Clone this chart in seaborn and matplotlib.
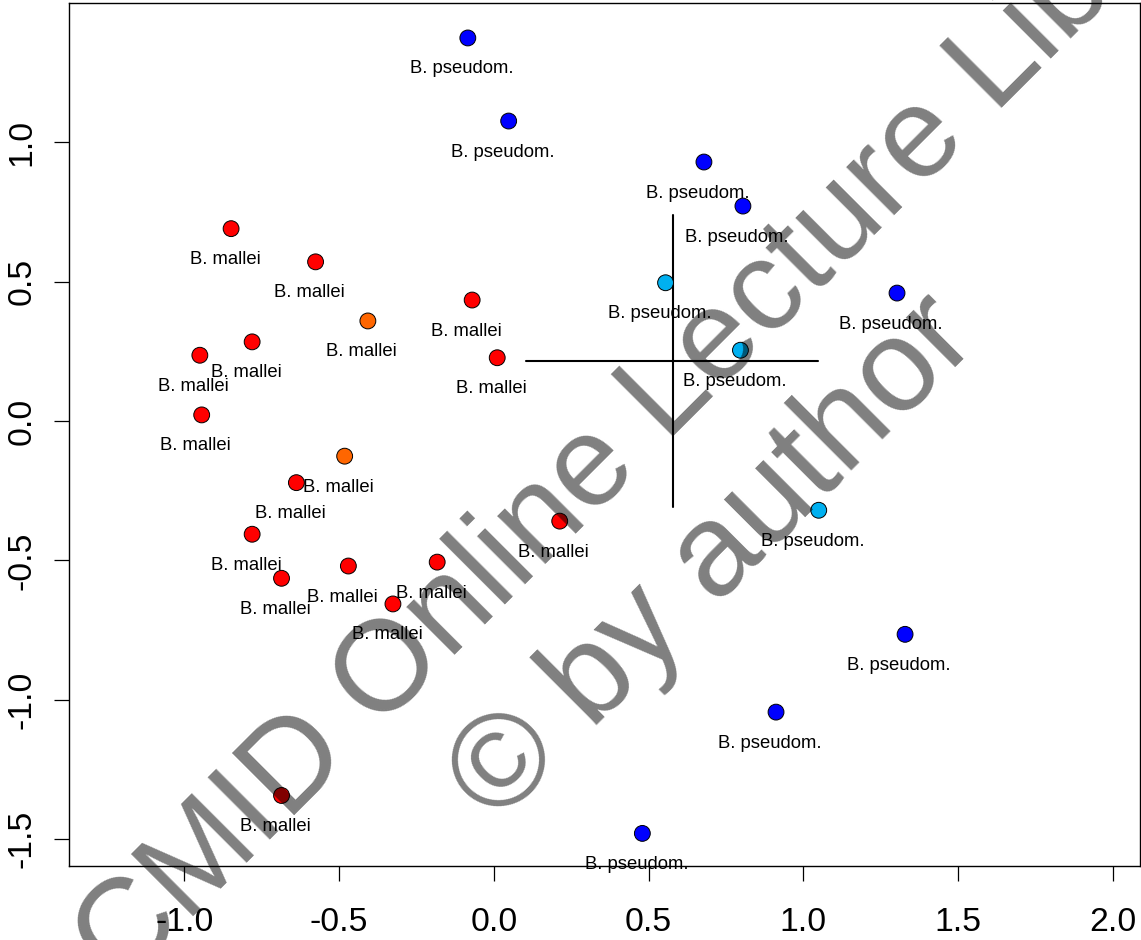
import numpy as np
import matplotlib
matplotlib.use("Agg")
import matplotlib.pyplot as plt
import pandas as pd
import seaborn as sns

# point coordinates (PCA-like map)
x_vals = [-0.084, 0.048, 0.679, 0.805, 1.303, 1.329, 0.912, 0.480,
          0.555, 0.797, 1.050,
          -0.849, -0.576, -0.407, -0.070, 0.011, -0.781, -0.950, -0.944,
          -0.482, -0.638, -0.781, -0.686, -0.470, -0.183, -0.326, 0.213, -0.686]
y_vals = [1.374, 1.076, 0.929, 0.771, 0.459, -0.765, -1.044, -1.479,
          0.496, 0.254, -0.320,
          0.690, 0.571, 0.359, 0.434, 0.227, 0.284, 0.236, 0.022,
          -0.126, -0.221, -0.406, -0.564, -0.520, -0.506, -0.656, -0.359, -1.343]
groups = ["pseudo"] * 8 + ["pseudo_light"] * 3 + \
         ["mallei", "mallei", "mallei_orange", "mallei", "mallei", "mallei", "mallei", "mallei",
          "mallei_orange", "mallei", "mallei", "mallei", "mallei", "mallei", "mallei", "mallei", "mallei"]
labels = ["B. pseudom."] * 11 + ["B. mallei"] * 17

# cross (horizontal and vertical segment)
cross_h_x = [0.105, 1.047]
cross_h_y = [0.215, 0.215]
cross_v_x = [0.578, 0.578]
cross_v_y = [-0.307, 0.739]

x_ticks = [-1.0, -0.5, 0.0, 0.5, 1.0, 1.5, 2.0]
y_ticks = [-1.5, -1.0, -0.5, 0.0, 0.5, 1.0]

palette = {"pseudo": "#0000FF", "pseudo_light": "#00B0F0",
           "mallei": "#FF0000", "mallei_orange": "#FF6600"}

df = pd.DataFrame({"x": x_vals, "y": y_vals, "group": groups, "label": labels})

sns.set_theme(style="white")
plt.rcParams["font.family"] = ["Liberation Sans", "DejaVu Sans"]
plt.rcParams["axes.unicode_minus"] = False

fig = plt.figure(figsize=(11.41, 9.40), dpi=100)
ax = fig.add_axes([0.0607, 0.0790, 0.9381, 0.9174])

ax.plot(cross_h_x, cross_h_y, color="black", lw=1.5, zorder=1)
ax.plot(cross_v_x, cross_v_y, color="black", lw=1.5, zorder=1)

sns.scatterplot(data=df, x="x", y="y", hue="group", palette=palette, s=130,
                edgecolor="black", linewidth=0.7, legend=False, ax=ax, zorder=3)

for _, row in df.iterrows():
    ax.annotate(row["label"], (row["x"], row["y"]), xytext=(-6, -35.5),
                textcoords="offset pixels", ha="center", va="baseline",
                fontsize=13.3, color="black", zorder=4)

ax.set_xlim(-1.372, 2.087)
ax.set_ylim(-1.595, 1.498)
ax.set_xticks(x_ticks)
ax.set_yticks(y_ticks)
ax.set_xticklabels([f"{t:.1f}" for t in x_ticks])
ax.set_yticklabels([f"{t:.1f}" for t in y_ticks])
ax.set_xlabel("")
ax.set_ylabel("")
for sp in ax.spines.values():
    sp.set_color("black")
    sp.set_linewidth(1.0)
ax.tick_params(axis="both", which="both", direction="out", length=10.8, width=0.9,
               color="black", labelsize=24.3, labelcolor="black", bottom=True, left=True)
ax.tick_params(axis="x", pad=19)
ax.tick_params(axis="y", pad=12.2, labelrotation=90)
for lab in ax.get_yticklabels():
    lab.set_va("center")

# watermark
W, H = 1141, 940
fig.text(697 / W, 1 - 413 / H, "CMID Online Lecture Library", fontsize=92.5,
         color="black", alpha=0.5, rotation=45, rotation_mode="anchor",
         ha="center", va="baseline", zorder=10)
fig.text(739 / W, 1 - 584 / H, "\u00a9 by author", fontsize=95,
         color="black", alpha=0.5, rotation=45, rotation_mode="anchor",
         ha="center", va="baseline", zorder=10)

fig.savefig("out.png", dpi=100)
